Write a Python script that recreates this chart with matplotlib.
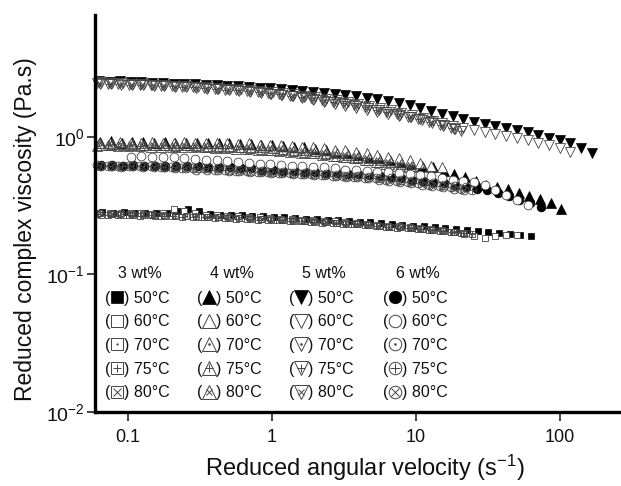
import matplotlib
matplotlib.use("Agg")

import matplotlib.pyplot as plt
import numpy as np
from matplotlib.ticker import FixedLocator, FixedFormatter, NullLocator

plt.rcParams["font.family"] = ["Liberation Sans", "DejaVu Sans"]
plt.rcParams["mathtext.fontset"] = "custom"
plt.rcParams["mathtext.rm"] = "Liberation Sans"
plt.rcParams["mathtext.it"] = "Liberation Sans:italic"


# ── Data ─────────────────────────────────────────────────────────────────────
# angular velocity grid (rad/s) shared by all sweeps
OMEGA = [0.063, 0.075, 0.089, 0.105, 0.125, 0.149, 0.176, 0.209, 0.248, 0.295,
         0.350, 0.416, 0.493, 0.586, 0.695, 0.825, 0.979, 1.16, 1.38, 1.64,
         1.94, 2.31, 2.74, 3.25, 3.86, 4.58, 5.44, 6.46, 7.66, 9.10,
         10.8, 12.8, 15.2, 18.1, 21.4, 25.5, 30.2, 35.9, 42.6, 50.5,
         60.0, 71.2, 84.5, 100, 119, 141, 168]

CONCENTRATIONS = ["3 wt%", "4 wt%", "5 wt%", "6 wt%"]
TEMPERATURES = [50, 60, 70, 75, 80]

# reduced complex viscosity (Pa.s)
ETA_3WT_50 = [0.285, 0.28, 0.285, 0.28, 0.28, 0.28, 0.28, 0.29, 0.30, 0.29,
              0.275, 0.27, 0.27, 0.27, 0.265, 0.265, 0.26, 0.26, 0.258, 0.255,
              0.252, 0.25, 0.248, 0.245, 0.242, 0.24, 0.237, 0.233, 0.23, 0.227,
              0.224, 0.22, 0.217, 0.213, 0.21, 0.207, 0.203, 0.20, 0.197, 0.193, 0.19]
ETA_3WT_60 = [0.28, 0.28, 0.275, 0.28, 0.28, 0.275, 0.28, 0.30, 0.29, 0.28,
              0.27, 0.27, 0.265, 0.265, 0.26, 0.26, 0.258, 0.255, 0.253, 0.25,
              0.248, 0.245, 0.243, 0.24, 0.237, 0.234, 0.23, 0.227, 0.224, 0.22,
              0.217, 0.213, 0.21, 0.205, 0.20, 0.19, 0.185, 0.19, 0.195, 0.195]
ETA_3WT_70 = [0.27, 0.275, 0.27, 0.27, 0.27, 0.268, 0.268, 0.265, 0.265, 0.262,
              0.26, 0.26, 0.258, 0.256, 0.254, 0.252, 0.25, 0.248, 0.246, 0.244,
              0.242, 0.24, 0.237, 0.234, 0.232, 0.229, 0.226, 0.223, 0.22, 0.217,
              0.214, 0.21, 0.207, 0.203, 0.20]
ETA_3WT_75 = [0.275, 0.27, 0.272, 0.27, 0.268, 0.27, 0.266, 0.266, 0.264, 0.262,
              0.26, 0.258, 0.257, 0.255, 0.253, 0.251, 0.249, 0.247, 0.245, 0.243,
              0.241, 0.238, 0.236, 0.233, 0.231, 0.228, 0.225, 0.222, 0.219, 0.216,
              0.213, 0.21, 0.206, 0.203, 0.20, 0.197]
ETA_3WT_80 = [0.28, 0.276, 0.278, 0.275, 0.274, 0.273, 0.272, 0.27, 0.268, 0.266,
              0.264, 0.262, 0.26, 0.258, 0.256, 0.254, 0.252, 0.25, 0.247, 0.245,
              0.243, 0.24, 0.238, 0.235, 0.232, 0.229, 0.226, 0.223, 0.22, 0.217,
              0.213, 0.21, 0.206, 0.202, 0.198]

ETA_4WT_50 = [0.92, 0.93, 0.91, 0.92, 0.92, 0.91, 0.92, 0.91, 0.91, 0.90,
              0.91, 0.90, 0.90, 0.89, 0.89, 0.88, 0.87, 0.86, 0.85, 0.84,
              0.82, 0.80, 0.78, 0.76, 0.74, 0.72, 0.70, 0.68, 0.66, 0.64,
              0.62, 0.60, 0.57, 0.54, 0.51, 0.48, 0.45, 0.43, 0.42, 0.39,
              0.37, 0.355, 0.33, 0.30]
ETA_4WT_60 = [0.90, 0.91, 0.92, 0.90, 0.91, 0.92, 0.91, 0.90, 0.92, 0.91,
              0.90, 0.91, 0.90, 0.89, 0.90, 0.88, 0.88, 0.87, 0.86, 0.85,
              0.84, 0.83, 0.81, 0.80, 0.78, 0.76, 0.74, 0.72, 0.70, 0.68,
              0.65, 0.62, 0.60]
ETA_4WT_70 = [0.88, 0.89, 0.88, 0.89, 0.88, 0.88, 0.87, 0.88, 0.87, 0.87,
              0.86, 0.86, 0.86, 0.85, 0.85, 0.84, 0.83, 0.82, 0.81, 0.80,
              0.79, 0.77, 0.76, 0.74, 0.72, 0.70, 0.68, 0.66, 0.64, 0.62, 0.60]
ETA_4WT_75 = [0.86, 0.87, 0.86, 0.86, 0.86, 0.85, 0.85, 0.85, 0.84, 0.84,
              0.84, 0.83, 0.83, 0.82, 0.82, 0.81, 0.80, 0.79, 0.78, 0.77,
              0.76, 0.74, 0.73, 0.71, 0.70, 0.68, 0.66, 0.64, 0.62, 0.60]
ETA_4WT_80 = [0.90, 0.88, 0.89, 0.88, 0.87, 0.88, 0.87, 0.86, 0.87, 0.86,
              0.85, 0.85, 0.84, 0.84, 0.83, 0.82, 0.81, 0.80, 0.79, 0.78,
              0.76, 0.75, 0.73, 0.72, 0.70, 0.68, 0.66, 0.64, 0.62, 0.60]

ETA_5WT_50 = [2.55, 2.52, 2.54, 2.50, 2.49, 2.47, 2.46, 2.44, 2.42, 2.41,
              2.39, 2.37, 2.36, 2.33, 2.31, 2.28, 2.26, 2.23, 2.20, 2.17,
              2.14, 2.10, 2.06, 2.02, 1.98, 1.93, 1.88, 1.83, 1.77, 1.71,
              1.62, 1.55, 1.48, 1.41, 1.35, 1.29, 1.25, 1.20, 1.16, 1.12,
              1.08, 1.04, 0.99, 0.95, 0.90, 0.83, 0.76]
ETA_5WT_60 = [2.50, 2.47, 2.48, 2.44, 2.42, 2.40, 2.38, 2.36, 2.33, 2.31,
              2.28, 2.25, 2.22, 2.19, 2.15, 2.11, 2.07, 2.02, 1.97, 1.92,
              1.86, 1.80, 1.74, 1.68, 1.62, 1.57, 1.52, 1.47, 1.43, 1.39,
              1.35, 1.31, 1.26, 1.21, 1.16, 1.12, 1.08, 1.05, 1.02, 0.98,
              0.95, 0.91, 0.87, 0.83, 0.78]
ETA_5WT_70 = [2.48, 2.46, 2.45, 2.43, 2.41, 2.40, 2.38, 2.36, 2.34, 2.32,
              2.30, 2.28, 2.25, 2.22, 2.19, 2.16, 2.12, 2.08, 2.04, 2.00,
              1.95, 1.90, 1.85, 1.80, 1.74, 1.68, 1.62, 1.56, 1.50, 1.44,
              1.37, 1.30, 1.22, 1.15]
ETA_5WT_75 = [2.45, 2.44, 2.42, 2.40, 2.39, 2.37, 2.35, 2.33, 2.31, 2.29,
              2.27, 2.24, 2.21, 2.18, 2.15, 2.12, 2.08, 2.04, 2.00, 1.96,
              1.91, 1.86, 1.81, 1.76, 1.70, 1.64, 1.58, 1.52, 1.46, 1.40,
              1.34, 1.28, 1.22, 1.16, 1.10]
ETA_5WT_80 = [2.42, 2.43, 2.40, 2.38, 2.37, 2.35, 2.33, 2.31, 2.29, 2.27,
              2.25, 2.22, 2.20, 2.17, 2.14, 2.10, 2.06, 2.02, 1.98, 1.94,
              1.89, 1.84, 1.79, 1.74, 1.69, 1.63, 1.57, 1.51, 1.45, 1.39,
              1.33, 1.27, 1.21, 1.15]

ETA_6WT_50 = [0.63, 0.63, 0.62, 0.63, 0.62, 0.62, 0.62, 0.61, 0.61, 0.61,
              0.60, 0.60, 0.60, 0.59, 0.59, 0.58, 0.58, 0.57, 0.57, 0.56,
              0.56, 0.55, 0.55, 0.54, 0.54, 0.53, 0.52, 0.51, 0.50, 0.49,
              0.48, 0.47, 0.46, 0.45, 0.43, 0.42, 0.41, 0.39, 0.37, 0.35,
              0.33, 0.31]
ETA_6WT_60 = [0.72, 0.73, 0.72, 0.71, 0.71, 0.70, 0.69, 0.68, 0.68, 0.67,
              0.66, 0.65, 0.64, 0.64, 0.63, 0.62, 0.61, 0.60, 0.60, 0.59,
              0.58, 0.58, 0.57, 0.56, 0.56, 0.55, 0.54, 0.53, 0.52, 0.50,
              0.49, 0.48, 0.47, 0.45, 0.41, 0.38, 0.35, 0.32]
ETA_6WT_70 = [0.62, 0.62, 0.61, 0.62, 0.61, 0.61, 0.60, 0.60, 0.60, 0.59,
              0.59, 0.59, 0.58, 0.58, 0.57, 0.57, 0.56, 0.56, 0.55, 0.55,
              0.54, 0.54, 0.53, 0.52, 0.52, 0.51, 0.50, 0.50, 0.49, 0.48,
              0.47, 0.46, 0.45, 0.44, 0.43]
ETA_6WT_75 = [0.63, 0.62, 0.62, 0.61, 0.61, 0.61, 0.60, 0.60, 0.59, 0.59,
              0.59, 0.58, 0.58, 0.57, 0.57, 0.56, 0.56, 0.55, 0.55, 0.54,
              0.54, 0.53, 0.52, 0.52, 0.51, 0.50, 0.50, 0.49, 0.48, 0.47,
              0.46, 0.45, 0.44, 0.43, 0.42, 0.41]
ETA_6WT_80 = [0.61, 0.61, 0.60, 0.61, 0.60, 0.60, 0.60, 0.59, 0.59, 0.58,
              0.58, 0.58, 0.57, 0.57, 0.56, 0.56, 0.55, 0.55, 0.54, 0.54,
              0.53, 0.53, 0.52, 0.51, 0.51, 0.50, 0.49, 0.48, 0.47, 0.46,
              0.45, 0.44, 0.43, 0.42, 0.41]

# (concentration, temperature) -> (viscosity, first OMEGA index, shift factor)
RUNS = {
    ("3 wt%", 50): (ETA_3WT_50, 0, 1.06), ("3 wt%", 60): (ETA_3WT_60, 0, 1.0),
    ("3 wt%", 70): (ETA_3WT_70, 0, 1.04), ("3 wt%", 75): (ETA_3WT_75, 0, 0.97),
    ("3 wt%", 80): (ETA_3WT_80, 0, 1.02),
    ("4 wt%", 50): (ETA_4WT_50, 0, 1.03), ("4 wt%", 60): (ETA_4WT_60, 0, 1.0),
    ("4 wt%", 70): (ETA_4WT_70, 0, 1.04), ("4 wt%", 75): (ETA_4WT_75, 0, 0.97),
    ("4 wt%", 80): (ETA_4WT_80, 0, 1.02),
    ("5 wt%", 50): (ETA_5WT_50, 0, 1.0), ("5 wt%", 60): (ETA_5WT_60, 0, 1.0),
    ("5 wt%", 70): (ETA_5WT_70, 0, 1.04), ("5 wt%", 75): (ETA_5WT_75, 0, 0.97),
    ("5 wt%", 80): (ETA_5WT_80, 0, 1.02),
    ("6 wt%", 50): (ETA_6WT_50, 0, 1.04), ("6 wt%", 60): (ETA_6WT_60, 3, 1.0),
    ("6 wt%", 70): (ETA_6WT_70, 0, 1.04), ("6 wt%", 75): (ETA_6WT_75, 0, 0.97),
    ("6 wt%", 80): (ETA_6WT_80, 0, 1.02),
}

# ── Style ────────────────────────────────────────────────────────────────────
SHAPE = {"3 wt%": "s", "4 wt%": "^", "5 wt%": "v", "6 wt%": "o"}
DATA_MS = {"s": 4.8, "^": 6.8, "v": 6.8, "o": 6.3}
LEGEND_MS = {"s": 8.0, "^": 9.5, "v": 9.5, "o": 9.0}
EDGE = "#444444"
TXT = "#111111"


def draw_symbol(ax, x, y, shape, temp, ms, transform, mew=0.7, face="white"):
    """Filled marker at 50 °C; open marker at 60 °C; open + dot / plus / cross above."""
    kw = dict(linestyle="none", transform=transform, clip_on=False)
    if temp == 50:
        ax.plot(x, y, marker=shape, ms=ms, mfc="black", mec="black", mew=0.5, **kw)
        return
    mfc = "white" if temp == 60 else face
    ax.plot(x, y, marker=shape, ms=ms, mfc=mfc, mec=EDGE, mew=mew, **kw)
    inner = 0.55 if shape in ("^", "v") else 0.8
    if temp == 70:
        ax.plot(x, y, marker="o", ms=ms * 0.2, mfc=EDGE, mec=EDGE, mew=0, **kw)
    elif temp == 75:
        ax.plot(x, y, marker="+", ms=ms * inner, mec=EDGE, mew=mew, **kw)
    elif temp == 80:
        ax.plot(x, y, marker="x", ms=ms * inner * 0.85, mec=EDGE, mew=mew, **kw)


# ── Figure ───────────────────────────────────────────────────────────────────
W, H = 621, 486
fig = plt.figure(figsize=(W / 100, H / 100), dpi=100)
ax = fig.add_axes([95 / W, (H - 412) / H, 1 - 95 / W, (412 - 15) / H])

# hollow symbols for 70-80 °C so the 50 °C points stay visible underneath
for conc in CONCENTRATIONS:
    shape = SHAPE[conc]
    for temp in TEMPERATURES:
        eta, start, shift = RUNS[(conc, temp)]
        x = np.array(OMEGA[start:start + len(eta)]) * shift
        draw_symbol(ax, x, eta, shape, temp, DATA_MS[shape], ax.transData,
                    mew=0.6, face="none")

ax.set_xscale("log")
ax.set_yscale("log")
ax.set_xlim(10 ** -1.226, 10 ** 2.427)
ax.set_ylim(0.01, 10 ** 0.887)

ax.xaxis.set_major_locator(FixedLocator([0.1, 1, 10, 100]))
ax.xaxis.set_major_formatter(FixedFormatter(["0.1", "1", "10", "100"]))
ax.yaxis.set_major_locator(FixedLocator([0.01, 0.1, 1]))
ax.yaxis.set_major_formatter(FixedFormatter(
    [r"$\mathregular{10^{-2}}$", r"$\mathregular{10^{-1}}$", r"$\mathregular{10^{0}}$"]))
ax.xaxis.set_minor_locator(NullLocator())
ax.yaxis.set_minor_locator(NullLocator())

for side in ("top", "right"):
    ax.spines[side].set_visible(False)
for side in ("left", "bottom"):
    ax.spines[side].set_linewidth(2.4)

ax.tick_params(axis="x", direction="out", length=6.5, width=1.1, pad=6,
               labelsize=13, colors=TXT)
ax.tick_params(axis="y", direction="out", length=5.5, width=1.1, pad=2,
               labelsize=14, colors=TXT)

fig.text(26 / W, 1 - 229 / H, "Reduced complex viscosity (Pa.s)", rotation=90,
         ha="center", va="center", fontsize=16.5, color=TXT)
fig.text(365 / W, 1 - 468 / H, r"Reduced angular velocity (s$\mathregular{^{-1}}$)",
         ha="center", va="center", fontsize=17, color=TXT)

# ── Legend block: one column per concentration ───────────────────────────────
COL_X = [105, 197, 289, 383]
HEAD_Y = 274
ROW_Y0, ROW_DY = 298, 23.7
for col, conc in zip(COL_X, CONCENTRATIONS):
    shape = SHAPE[conc]
    fig.text((col + 35) / W, 1 - HEAD_Y / H, conc, ha="center", va="center",
             fontsize=11.5, color=TXT)
    for k, temp in enumerate(TEMPERATURES):
        yy = 1 - (ROW_Y0 + k * ROW_DY) / H
        fig.text(col / W, yy, "(", ha="left", va="center", fontsize=11.5, color=TXT)
        draw_symbol(ax, [(col + 12) / W], [yy + 0.002], shape, temp,
                    LEGEND_MS[shape], fig.transFigure)
        fig.text((col + 19) / W, yy, f") {temp}°C", ha="left", va="center",
                 fontsize=11.5, color=TXT)

fig.savefig("out.png", dpi=100, facecolor="white")
